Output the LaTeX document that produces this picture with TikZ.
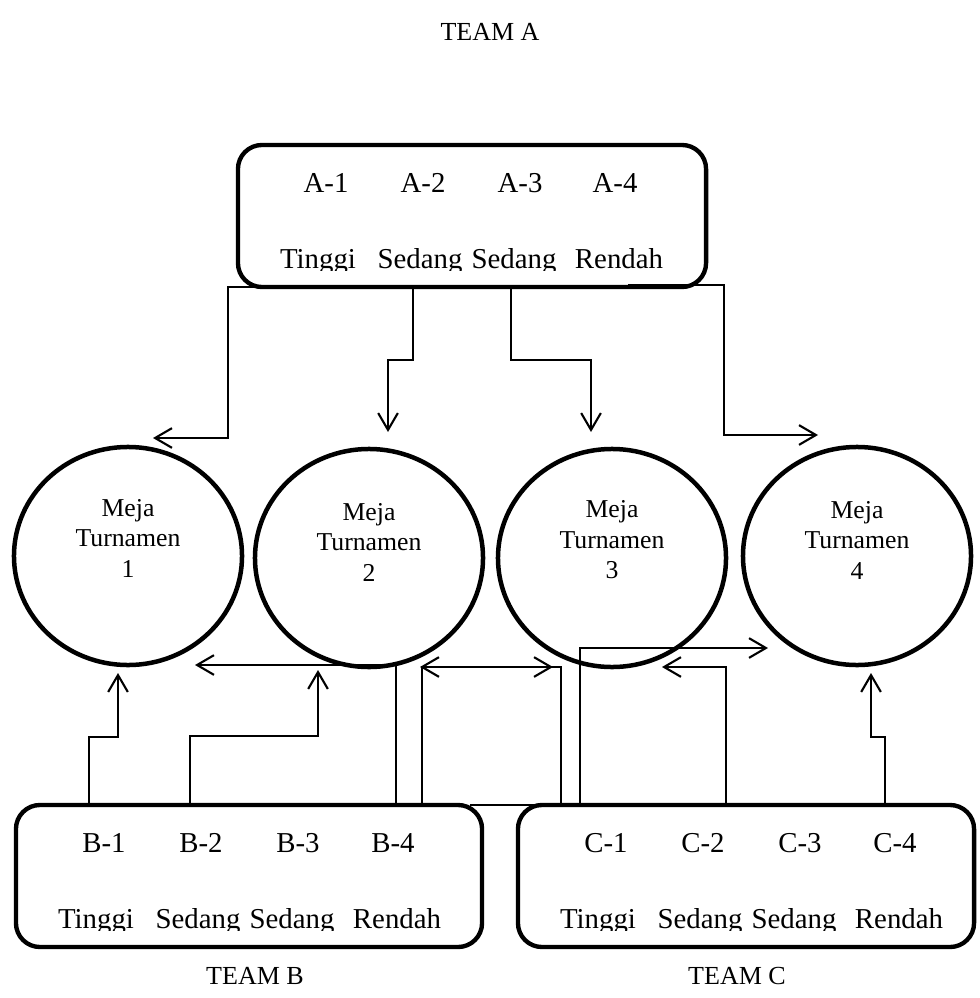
\documentclass[tikz,border=0pt]{standalone}
\usepackage{fontspec}
\setmainfont{Liberation Serif}
\usetikzlibrary{arrows.meta}
\usetikzlibrary{shapes.geometric}

\begin{document}
\begin{tikzpicture}[x=0.025cm,
                    y=-0.025cm,
                    >={Straight Barb[length=12pt,width=14pt]},
                    line width=1.5pt,
                    team/.style={rectangle,draw,line width=3.1pt,rounded corners=0.6cm,minimum height=3.55cm},
                    meja/.style={ellipse,draw,line width=3.2pt,minimum width=5.7cm,minimum height=5.45cm},
                    mejatxt/.style={align=center,font=\fontsize{18.3}{21.7}\selectfont},
                    txt/.style={anchor=base,inner sep=0pt,font=\fontsize{20.5}{24}\selectfont},
                    lbl/.style={font=\fontsize{18.5}{22}\selectfont}
                    ]
  \useasboundingbox (0,0) rectangle (979,998);

  % teams
  \node[lbl] (labA) at (490,32) {TEAM A};
  \node[team,minimum width=11.7cm] (teamA) at (472,216) {};
  \node[txt] (a1) at (326,192) {A-1};
  \node[txt] (a2) at (423,192) {A-2};
  \node[txt] (a3) at (520,192) {A-3};
  \node[txt] (a4) at (615,192) {A-4};
  \begin{scope}
    \clip (240,230) rectangle (704,270);
    \node[txt] (la1) at (318,268) {Tinggi};
    \node[txt] (la2) at (420,268) {Sedang};
    \node[txt] (la3) at (514,268) {Sedang};
    \node[txt] (la4) at (619,268) {Rendah};
  \end{scope}

  \node[team,minimum width=11.65cm] (teamB) at (249,876) {};
  \node[txt] (b1) at (104,852) {B-1};
  \node[txt] (b2) at (201,852) {B-2};
  \node[txt] (b3) at (298,852) {B-3};
  \node[txt] (b4) at (393,852) {B-4};
  \begin{scope}
    \clip (18,890) rectangle (480,930);
    \node[txt] (lb1) at (96,928) {Tinggi};
    \node[txt] (lb2) at (198,928) {Sedang};
    \node[txt] (lb3) at (292,928) {Sedang};
    \node[txt] (lb4) at (397,928) {Rendah};
  \end{scope}
  \node[lbl] (labB) at (255,976) {TEAM B};

  \node[team,minimum width=11.4cm] (teamC) at (746,876) {};
  \node[txt] (c1) at (606,852) {C-1};
  \node[txt] (c2) at (703,852) {C-2};
  \node[txt] (c3) at (800,852) {C-3};
  \node[txt] (c4) at (895,852) {C-4};
  \begin{scope}
    \clip (520,890) rectangle (972,930);
    \node[txt] (lc1) at (598,928) {Tinggi};
    \node[txt] (lc2) at (700,928) {Sedang};
    \node[txt] (lc3) at (794,928) {Sedang};
    \node[txt] (lc4) at (899,928) {Rendah};
  \end{scope}
  \node[lbl] (labC) at (737,976) {TEAM C};

  % tables
  \node[meja] (m1) at (128,556) {};
  \node[meja] (m2) at (369,558) {};
  \node[meja] (m3) at (612,558) {};
  \node[meja] (m4) at (857,556) {};
  \node[mejatxt] (m1t) at (128,538) {Meja\\Turnamen\\1};
  \node[mejatxt] (m2t) at (369,542) {Meja\\Turnamen\\2};
  \node[mejatxt] (m3t) at (612,540) {Meja\\Turnamen\\3};
  \node[mejatxt] (m4t) at (857,540) {Meja\\Turnamen\\4};

  % connector ends
  \coordinate (sA1) at (265,287);
  \coordinate (sA2) at (413,287);
  \coordinate (sA3) at (511,287);
  \coordinate (sA4) at (628,285);
  \coordinate (eA1) at (153,438);
  \coordinate (eA2) at (388,432);
  \coordinate (eA3) at (591,432);
  \coordinate (eA4) at (818,435);

  \coordinate (sB1) at (89,805);
  \coordinate (sB2) at (190,805);
  \coordinate (sB4) at (396,805);
  \coordinate (sB4b) at (422,805);
  \coordinate (eB1) at (118,673);
  \coordinate (eB2) at (318,670);
  \coordinate (eB4) at (195,665);
  \coordinate (eB4b) at (553,667);

  \coordinate (sC1) at (470,805);
  \coordinate (sC1b) at (580,805);
  \coordinate (sC2) at (795,804);
  \coordinate (sC4) at (885,805);
  \coordinate (eC1) at (420,667);
  \coordinate (eC1b) at (768,648);
  \coordinate (eC2) at (662,667);
  \coordinate (eC4) at (871,673);

  % team A to tables
  \draw[->] (sA1) -- (228,287) -- (228,438) -- (eA1);
  \draw[->] (sA2) -- (413,360) -- (388,360) -- (eA2);
  \draw[->] (sA3) -- (511,360) -- (591,360) -- (eA3);
  \draw[->] (sA4) -- (724,285) -- (724,435) -- (eA4);

  % team B to tables
  \draw[->] (sB1) -- (89,737) -- (118,737) -- (eB1);
  \draw[->] (sB2) -- (190,736) -- (318,736) -- (eB2);
  \draw[->] (sB4) -- (396,665) -- (eB4);
  \draw[->] (sB4b) -- (422,667) -- (eB4b);

  % team C to tables
  \draw[->] (sC1) -- (561,805) -- (561,667) -- (eC1);
  \draw[->] (sC1b) -- (580,648) -- (eC1b);
  \draw[->] (sC2) -- (726,804) -- (726,667) -- (eC2);
  \draw[->] (sC4) -- (885,737) -- (871,737) -- (eC4);
\end{tikzpicture}
\end{document}
